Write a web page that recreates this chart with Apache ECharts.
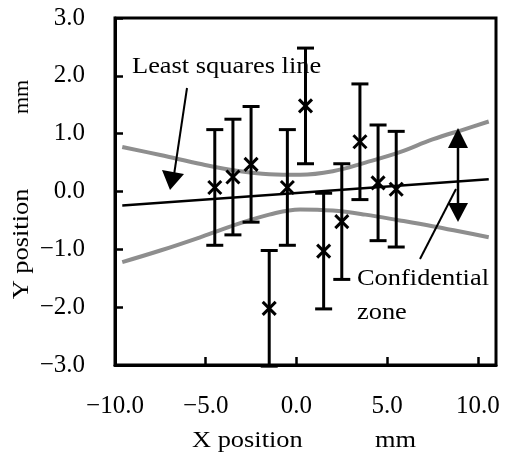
<!DOCTYPE html>
<html>
<head>
<meta charset="utf-8">
<script src="https://cdn.jsdelivr.net/npm/echarts@6/dist/echarts.min.js"></script>
<style>
html,body{margin:0;padding:0;background:#fff;}
#chart{width:508px;height:457px;}
</style>
</head>
<body>
<div id="chart"></div>
<script>
// ---- data ----
const xVals = [-4.5, -3.5, -2.5, -1.5, -0.5, 0.5, 1.5, 2.5, 3.5, 4.5, 5.5];
const yVals = [0.07, 0.25, 0.47, -2.02, 0.07, 1.48, -1.03, -0.52, 0.86, 0.15, 0.04];
const yErr  = [1.0, 1.0, 1.0, 1.0, 1.0, 1.0, 1.0, 1.0, 1.0, 1.0, 1.0];

const lsqX = [-9.6, 10.6];
const lsqY = [-0.24, 0.21];

const bandX     = [-9.6, -7.5, -5.2, -3.3, -1.5, 0.2, 2.0, 3.8, 5.7, 7.5, 9.3, 10.6];
const bandUpper = [0.77, 0.63, 0.47, 0.36, 0.30, 0.29, 0.35, 0.50, 0.68, 0.90, 1.08, 1.21];
const bandLower = [-1.22, -1.02, -0.78, -0.57, -0.40, -0.31, -0.33, -0.40, -0.50, -0.60, -0.71, -0.79];

const xTickValues = [-10, -5, 0, 5, 10];
const yTickValues = [-3, -2, -1, 0, 1, 2, 3];

// ---- build ----
const FONT = "'Liberation Serif', 'Times New Roman', Times, serif";
const fmt = v => (v < 0 ? '\u2212' : '') + Math.abs(v).toFixed(1);
const pts = xVals.map((x, i) => [x, yVals[i], yErr[i]]);
const zip = (a, b) => a.map((v, i) => [v, b[i]]);

const chart = echarts.init(document.getElementById('chart'), null, {renderer: 'canvas'});

function renderErr(params, api) {
  const x = api.value(0), y = api.value(1), e = api.value(2);
  const t = api.coord([x, y + e]);
  const b = api.coord([x, y - e]);
  const c = api.coord([x, y]);
  const cw = 8.5, m = 6.5;
  const st = {stroke: '#000', lineWidth: 3};
  return {
    type: 'group',
    children: [
      {type: 'line', shape: {x1: t[0], y1: t[1], x2: b[0], y2: b[1]}, style: st},
      {type: 'line', shape: {x1: t[0] - cw, y1: t[1], x2: t[0] + cw, y2: t[1]}, style: st},
      {type: 'line', shape: {x1: b[0] - cw, y1: b[1], x2: b[0] + cw, y2: b[1]}, style: st},
      {type: 'line', shape: {x1: c[0] - m, y1: c[1] - m, x2: c[0] + m, y2: c[1] + m}, style: st},
      {type: 'line', shape: {x1: c[0] - m, y1: c[1] + m, x2: c[0] + m, y2: c[1] - m}, style: st}
    ]
  };
}

const txt = (text, x, y, extra) => Object.assign({
  type: 'text', x: x, y: y, scaleX: 1.1, z: 100,
  style: {text: text, font: '24px ' + FONT, fill: '#000', align: 'left', verticalAlign: 'middle'}
}, extra || {});

chart.setOption({
  animation: false,
  backgroundColor: '#fff',
  textStyle: {fontFamily: FONT},
  grid: {left: 115, right: 12, top: 18, bottom: 92, show: true, borderColor: '#000', borderWidth: 3, containLabel: false},
  xAxis: {
    type: 'value', min: -10, max: 11, interval: 5,
    axisLine: {show: true, onZero: false, lineStyle: {color: '#000', width: 3}},
    axisTick: {show: true, inside: true, length: 8, lineStyle: {color: '#000', width: 2.5}},
    splitLine: {show: false},
    axisLabel: {
      margin: 29, color: '#000', fontSize: 25, fontFamily: FONT,
      showMaxLabel: false,
      formatter: v => xTickValues.includes(v) ? fmt(v) : ''
    }
  },
  yAxis: {
    type: 'value', min: -3, max: 3, interval: 1,
    axisLine: {show: true, onZero: false, lineStyle: {color: '#000', width: 3}},
    axisTick: {show: true, inside: true, length: 8, lineStyle: {color: '#000', width: 2.5}},
    splitLine: {show: false},
    axisLabel: {
      margin: 30, color: '#000', fontSize: 25, fontFamily: FONT,
      formatter: v => yTickValues.includes(v) ? fmt(v) : ''
    }
  },
  series: [
    {
      type: 'line', data: zip(bandX, bandUpper), smooth: 0.4, symbol: 'none',
      lineStyle: {color: '#8e8e8e', width: 4}, z: 2
    },
    {
      type: 'line', data: zip(bandX, bandLower), smooth: 0.4, symbol: 'none',
      lineStyle: {color: '#8e8e8e', width: 4}, z: 2
    },
    {
      type: 'line', data: zip(lsqX, lsqY), symbol: 'none',
      lineStyle: {color: '#000', width: 2.5}, z: 3
    },
    {
      type: 'custom', renderItem: renderErr, data: pts, z: 4, clip: false,
      encode: {x: 0, y: 1}
    }
  ],
  graphic: {
    elements: [
      txt('Least squares line', 132, 67),
      txt('Confidential', 357, 279),
      txt('zone', 357, 313),
      txt('X position', 192, 441),
      txt('mm', 375, 441),
      txt('Y position', 22, 244, {rotation: Math.PI / 2, style: {text: 'Y position', font: '24px ' + FONT, fill: '#000', align: 'center', verticalAlign: 'middle'}}),
      txt('mm', 22, 97, {scaleX: 1.0, rotation: Math.PI / 2, style: {text: 'mm', font: '22px ' + FONT, fill: '#000', align: 'center', verticalAlign: 'middle'}}),
      // least squares arrow
      {type: 'line', z: 100, shape: {x1: 187, y1: 88, x2: 174, y2: 175}, style: {stroke: '#000', lineWidth: 2}},
      {type: 'polygon', z: 100, shape: {points: [[170, 190], [162, 170], [184, 174]]}, style: {fill: '#000'}},
      // confidential zone double arrow
      {type: 'line', z: 100, shape: {x1: 458, y1: 140, x2: 458, y2: 212}, style: {stroke: '#000', lineWidth: 2.5}},
      {type: 'polygon', z: 100, shape: {points: [[458, 128], [448, 148], [468, 148]]}, style: {fill: '#000'}},
      {type: 'polygon', z: 100, shape: {points: [[458, 222], [448, 203], [468, 203]]}, style: {fill: '#000'}},
      {type: 'line', z: 100, shape: {x1: 420, y1: 259, x2: 456, y2: 189}, style: {stroke: '#000', lineWidth: 2}}
    ]
  }
});
</script>
</body>
</html>
